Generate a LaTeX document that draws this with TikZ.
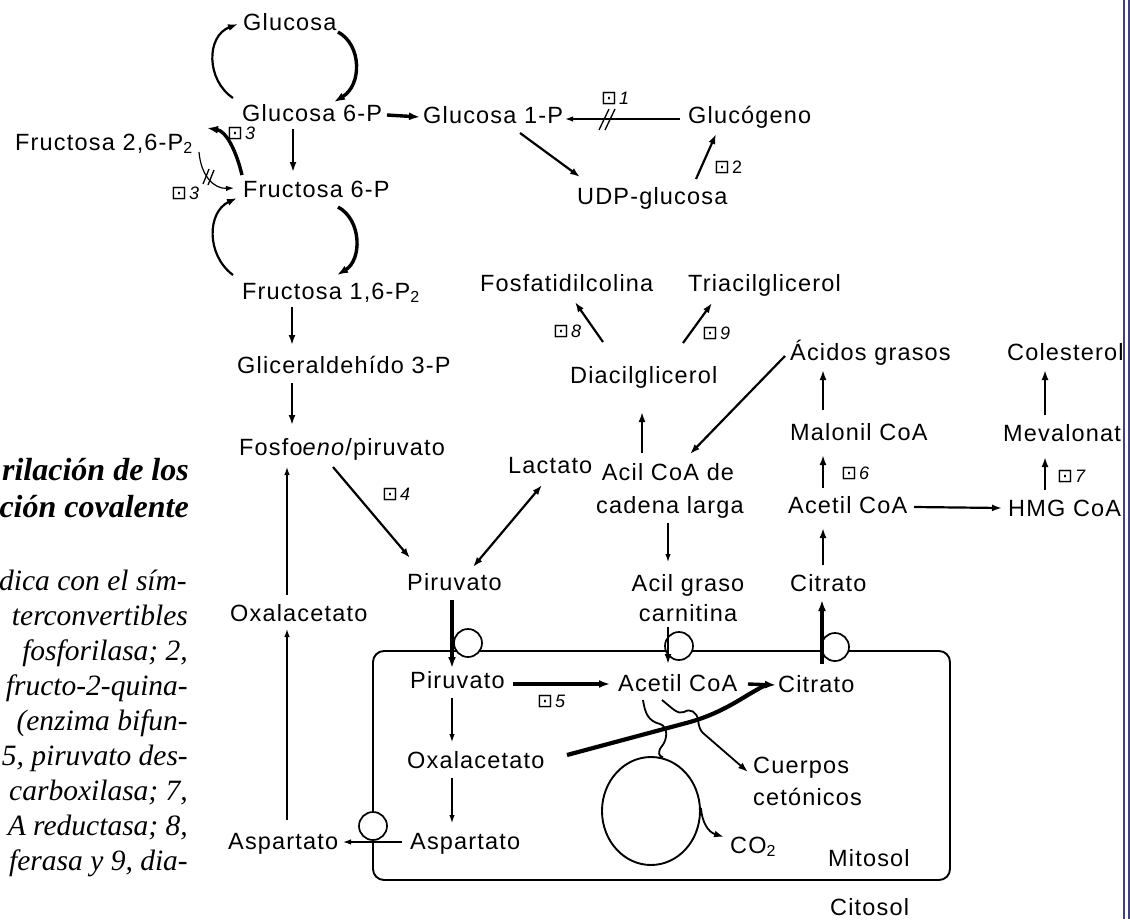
\documentclass[tikz,border=0pt]{standalone}
\usepackage{fontspec}
\setmainfont{Liberation Sans}[LetterSpace=5]
\newfontfamily\serbody{Liberation Serif}
\newfontfamily\dvfont{DejaVu Sans}
\usetikzlibrary{arrows.meta,calc,shapes.geometric}
\definecolor{blueline}{RGB}{64,64,128}
\newcommand{\mysub}[1]{\raisebox{-3pt}{\fontsize{16}{16}\selectfont #1}}
\newcommand{\enzl}[1]{{\dvfont\fontsize{19}{19}\selectfont ⊡}\hspace{2pt}{\fontsize{18}{18}\selectfont\itshape #1}}
\newcommand{\enzu}[1]{{\dvfont\fontsize{19}{19}\selectfont ⊡}\hspace{2pt}{\fontsize{18}{18}\selectfont #1}}
\begin{document}
\begin{tikzpicture}[x=1pt,y=-1pt,
  lb/.style={font=\fontsize{23.5}{30}\selectfont, inner sep=0pt, anchor=base west},
  lbc/.style={font=\fontsize{23.5}{30}\selectfont, inner sep=0pt, anchor=base},
  en/.style={inner sep=0pt, anchor=base west},
  bt/.style={font=\serbody\fontsize{29.5}{35}\selectfont\itshape, inner sep=0pt, anchor=base east},
  tt/.style={font=\serbody\fontsize{32}{35}\selectfont\bfseries\itshape, inner sep=0pt, anchor=base east},
  ar/.style={-{Latex[length=10pt,width=7pt]}, line width=2.2pt},
  thinar/.style={-{Latex[length=8pt,width=5.5pt]}, line width=1.2pt},
  thk/.style={-{Latex[length=11pt,width=8pt]}, line width=3.4pt},
  hatch/.style={line width=1.3pt},
]
\useasboundingbox (0,0) rectangle (1130,919);
\fill[white] (0,0) rectangle (1130,919);

% ---------- left caption (cut off at the page edge) ----------
\node[tt] (t1) at (189,480) {rilación de los};
\node[tt] (t2) at (189,517) {ción covalente};
\node[bt] (t3) at (187,590) {dica con el sím-};
\node[bt] (t4) at (188,625) {terconvertibles};
\node[bt] (t5) at (188,660) {fosforilasa; 2,};
\node[bt] (t6) at (188,695) {fructo-2-quina-};
\node[bt] (t7) at (188,730) {(enzima bifun-};
\node[bt] (t8) at (188,765) {5, piruvato des-};
\node[bt] (t9) at (188,800) {carboxilasa;\ 7,};
\node[bt] (t10) at (188,835) {A reductasa; 8,};
\node[bt] (t11) at (188,870) {ferasa y 9, dia-};

% ---------- nodes ----------
\node[lb] (g) at (243,30) {Glucosa};
\node[lb] (g6p) at (242,121) {Glucosa 6-P};
\node[lb] (g1p) at (423,123) {Glucosa 1-P};
\node[lb] (glg) at (688,123) {Glucógeno};
\node[lb] (udp) at (577,204) {UDP-glucosa};
\node[lb] (f26) at (15,150) {Fructosa 2,6-P\mysub{2}};
\node[lb] (f6p) at (243,197) {Fructosa 6-P};
\node[lb] (f16) at (242,299) {Fructosa 1,6-P\mysub{2}};
\node[lb] (gap) at (237,373) {Gliceraldehído 3-P};
\node[lb] (pep) at (239,455) {Fosfo\textit{eno}/piruvato};
\node[lb] (pyr) at (407,590) {Piruvato};
\node[lb] (lac) at (508,473) {Lactato};
\node[lb] (oaac) at (230,621) {Oxalacetato};
\node[lb] (aspc) at (228,849) {Aspartato};
\node[lb] (pyrm) at (410,688) {Piruvato};
\node[lb] (acm) at (618,691) {Acetil CoA};
\node[lb] (citm) at (778,692) {Citrato};
\node[lb] (oaam) at (407,768) {Oxalacetato};
\node[lb] (aspm) at (410,849) {Aspartato};
\node[lb] (cc1) at (753,773) {Cuerpos};
\node[lb] (cc2) at (753,805) {cetónicos};
\node[lb] (co2) at (730,853) {CO\mysub{2}};
\node[lb] (mitosol) at (828,866) {Mitosol};
\node[lb] (citosol) at (830,915) {Citosol};
\node[lb] (fcol) at (480,291) {Fosfatidilcolina};
\node[lb] (tag) at (688,291) {Triacilglicerol};
\node[lb] (dag) at (570,383) {Diacilglicerol};
\node[lbc] (acl1) at (668,480) {Acil CoA de};
\node[lbc] (acl2) at (670,513) {cadena larga};
\node[lbc] (agc1) at (688,591) {Acil graso};
\node[lbc] (agc2) at (688,621) {carnitina};
\node[lb] (fa) at (790,360) {Ácidos grasos};
\node[lb] (mal) at (790,440) {Malonil CoA};
\node[lb] (acc) at (788,513) {Acetil CoA};
\node[lb] (citc) at (790,591) {Citrato};
\node[lb] (hmg) at (1008,516) {HMG CoA};
\node[lb] (col) at (1007,360) {Colesterol};
\node[lb] (mev) at (1003,441) {Mevalonato};
\node[draw, ellipse, line width=1.9pt, minimum width=98pt, minimum height=108pt, inner sep=0pt] (tca) at (651,811) {};

% enzyme labels
\node[en] (e1) at (601,104) {\enzl{1}};
\node[en] (e2) at (714,173) {\enzu{2}};
\node[en] (e3a) at (227,139) {\enzl{3}};
\node[en] (e3b) at (171,199) {\enzl{3}};
\node[en] (e4) at (382,500) {\enzl{4}};
\node[en] (e5) at (537,707) {\enzl{5}};
\node[en] (e6) at (841,479) {\enzl{6}};
\node[en] (e7) at (1057,482) {\enzl{7}};
\node[en] (e8) at (553,337) {\enzl{8}};
\node[en] (e9) at (702,339) {\enzl{9}};

% ---------- mitochondrion ----------
\draw[line width=1.9pt, rounded corners=11pt] (373,651) rectangle (950,880);
\draw[line width=1.7pt, fill=white] (468,643) circle (14);
\draw[line width=1.7pt, fill=white] (679,646) circle (14);
\draw[line width=1.7pt, fill=white] (835,647) circle (14);
\draw[line width=1.7pt, fill=white] (373,826) circle (14);

% ---------- connectors: glycolysis / glycogen ----------
\draw[ar] ($(g6p.base west)+(-9,-23)$) .. controls (206,80) and (206,36) .. ($(g.base west)+(-5,-6)$);
\draw[thk] ($(g.base west)+(95,2)$) .. controls (362,45) and (362,85) .. ($(g6p.base west)+(92,-19)$);
\draw[ar] ($(f16.base west)+(-9,-24)$) .. controls (206,255) and (207,212) .. ($(f6p.base west)+(-6,1)$);
\draw[thk] ($(f6p.base west)+(95,10)$) .. controls (362,220) and (362,260) .. ($(f16.base west)+(95,-24)$);
\draw[ar] ($(g6p.base west)+(51,8)$) -- ($(f6p.base west)+(50,-25)$);
\draw[ar] ($(f16.base west)+(50,8)$) -- ($(gap.base west)+(55,-28)$);
\draw[ar] ($(gap.base west)+(55,10)$) -- ($(pep.base west)+(53,-30)$);
\draw[thk] ($(g6p.base west)+(145,-6)$) -- ($(g1p.base west)+(-3,-6)$);
\draw[thinar, line width=1.5pt] ($(glg.base west)+(-8,-4)$) -- ($(g1p.base west)+(142,-4)$);
\draw[hatch] (599,130) -- (609,109) (605,130) -- (615,109);
\draw[ar] ($(g1p.base west)+(97,10)$) -- ($(udp.base west)+(3,-27)$);
\draw[ar] ($(udp.base west)+(119,-25)$) -- ($(glg.base west)+(28,11)$);
\draw[thk] ($(f6p.base west)+(-1,-22)$) .. controls (236,150) and (226,131) .. ($(f26.base west)+(192,-22)$);
\draw[thinar] ($(f26.base west)+(184,2)$) .. controls (201,176) and (214,189) .. ($(f6p.base west)+(-9,-9)$);
\draw[hatch] (203,184) -- (209,169) (208,185) -- (214,170);

% ---------- pyruvate etc ----------
\draw[ar] ($(pep.base west)+(94,12)$) -- ($(pyr.base west)+(3,-32)$);
\draw[{Latex[length=10pt,width=7pt]}-{Latex[length=10pt,width=7pt]}, line width=2.2pt] ($(lac.base west)+(34,12)$) -- ($(pyr.base west)+(66,-23)$);
\draw[thinar] ($(oaac.base west)+(57,-26)$) -- ($(pep.base west)+(48,12)$);
\draw[thinar] ($(aspc.base west)+(59,-29)$) -- ($(oaac.base west)+(57,8)$);
\draw[thk] ($(pyr.base west)+(45,10)$) -- ($(pyrm.base west)+(42,-20)$);
\draw[ar] ($(agc2.base)+(-20,6)$) -- ($(acm.base west)+(50,-27)$);
\draw[thk] ($(citm.base west)+(44,-28)$) -- ($(citc.base west)+(32,9)$);
\draw[thk] ($(pyrm.base west)+(103,-4)$) -- ($(acm.base west)+(-8,-7)$);
\draw[thk] ($(acm.base west)+(130,-7)$) -- ($(citm.base west)+(-2,-7)$);
\draw[thinar] ($(pyrm.base west)+(42,10)$) -- ($(oaam.base west)+(45,-26)$);
\draw[thinar] ($(oaam.base west)+(45,10)$) -- ($(aspm.base west)+(42,-26)$);
\draw[thinar] ($(aspm.base west)+(-8,-7)$) -- ($(aspc.base west)+(115,-7)$);
\draw[line width=4.2pt] ($(oaam.base west)+(160,-13)$) -- (690,722) .. controls (728,711) and (746,694) .. ($(citm.base west)+(-10,-8)$);
\draw[line width=1.8pt] ($(acm.base west)+(25,9)$) .. controls (645,713) and (648,721) .. (660,724) .. controls (669,727) and (667,740) .. (662,746) .. controls (657,752) and (659,757) .. ($(tca.north)+(12,1)$);
\draw[ar, line width=1.8pt] ($(acm.base west)+(44,9)$) .. controls (672,708) and (678,715) .. (684,712) .. controls (690,708) and (697,712) .. (698,720) .. controls (699,727) and (700,730) .. (703,733) -- ($(cc1.base west)+(-5,-1)$);
\draw[ar, line width=1.8pt] ($(tca.east)+(0,-3)$) .. controls (702,822) and (708,832) .. ($(co2.base west)+(-6,-16)$);

% ---------- lipids / sterols ----------
\draw[ar] ($(dag.base west)+(33,-41)$) -- ($(fcol.base west)+(95,11)$);
\draw[ar] ($(dag.base west)+(113,-40)$) -- ($(tag.base west)+(24,12)$);
\draw[ar] ($(acl1.base)+(-26,-27)$) -- ($(dag.base west)+(72,29)$);
\draw[ar] ($(fa.base west)+(-5,-4)$) -- ($(acl1.base)+(22,-26)$);
\draw[thinar] ($(acl2.base)+(-2,10)$) -- ($(agc1.base)+(-20,-29)$);
\draw[ar] ($(mal.base west)+(33,-30)$) -- ($(fa.base west)+(33,10)$);
\draw[ar] ($(acc.base west)+(35,-25)$) -- ($(mal.base west)+(33,15)$);
\draw[ar] ($(citc.base west)+(33,-26)$) -- ($(acc.base west)+(35,15)$);
\draw[ar] ($(acc.base west)+(126,-6)$) -- ($(hmg.base west)+(-6,-8)$);
\draw[ar] ($(mev.base west)+(42,-26)$) -- ($(col.base west)+(38,10)$);
\draw[ar] ($(hmg.base west)+(37,-26)$) -- ($(mev.base west)+(42,16)$);

% ---------- right border ----------
\fill[white] (1122,0) rectangle (1130,919);
\draw[blueline, line width=2pt] (1124,0) -- (1124,919);
\draw[blueline, line width=2pt] (1128.5,0) -- (1128.5,919);
\end{tikzpicture}
\end{document}
